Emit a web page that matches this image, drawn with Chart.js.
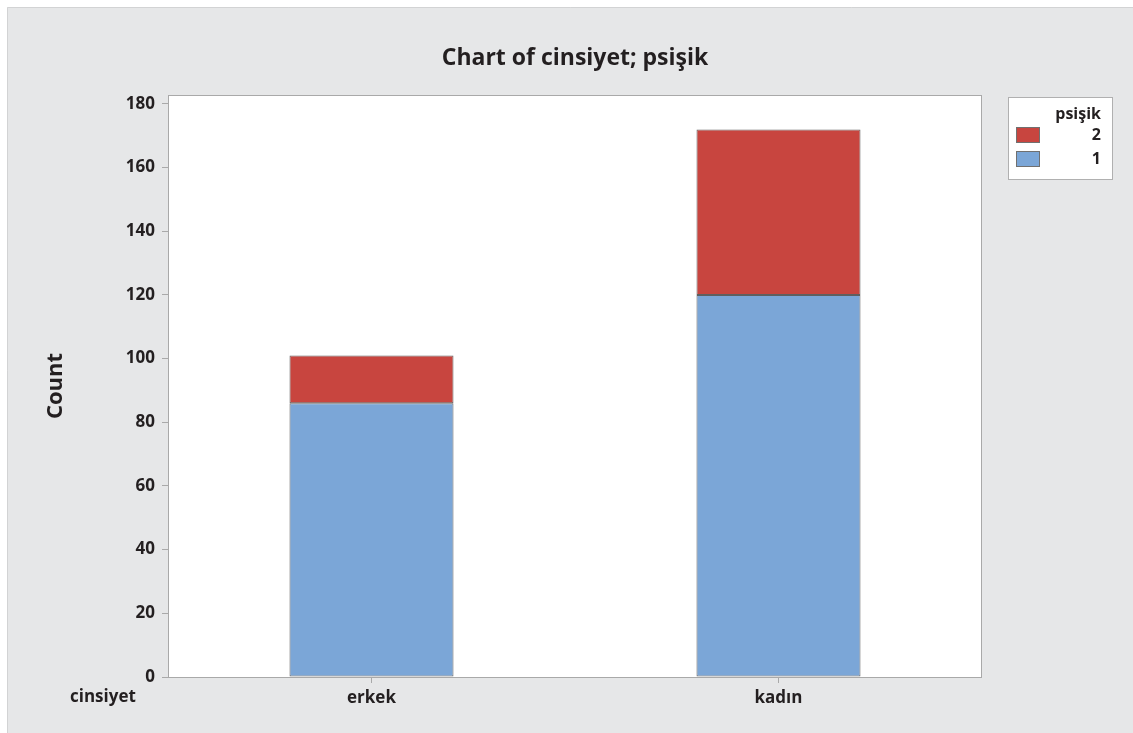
<!DOCTYPE html>
<html>
<head>
<meta charset="utf-8">
<script src="https://cdn.jsdelivr.net/npm/chart.js@4"></script>
<style>
  body { margin: 0; background: #ffffff; }
  #wrap { width: 1133px; height: 733px; position: relative; }
</style>
</head>
<body>
<div id="wrap"><canvas id="chart"></canvas></div>
<script>
const categories = ['erkek', 'kadın'];
const psisik1 = [86, 120];
const psisik2 = [15, 52];
const yTicks = [0, 20, 40, 60, 80, 100, 120, 140, 160, 180];

const FONT = '"Open Sans", "Noto Sans", sans-serif';
const BLUE = '#7ba6d7';
const RED = '#c8453f';

const decorPlugin = {
    id: 'decor',
    beforeDraw(chart) {
        const ctx = chart.ctx;
        const a = chart.chartArea;
        ctx.save();
        ctx.fillStyle = '#ffffff';
        ctx.fillRect(0, 0, chart.width, chart.height);
        ctx.fillStyle = '#e6e7e8';
        ctx.fillRect(7, 7, chart.width - 7, chart.height - 7);
        ctx.strokeStyle = '#d2d3d4';
        ctx.lineWidth = 1;
        ctx.beginPath();
        ctx.moveTo(7.5, chart.height);
        ctx.lineTo(7.5, 7.5);
        ctx.lineTo(chart.width, 7.5);
        ctx.stroke();
        ctx.fillStyle = '#ffffff';
        ctx.fillRect(a.left, a.top, a.right - a.left, a.bottom - a.top);
        ctx.restore();
    },
    afterDraw(chart) {
        const ctx = chart.ctx;
        const a = chart.chartArea;
        ctx.save();
        ctx.strokeStyle = '#a9a9a9';
        ctx.lineWidth = 1;
        ctx.strokeRect(a.left + 0.5, a.top + 0.5, a.right - a.left - 1, a.bottom - a.top);

        // title
        ctx.fillStyle = '#231f20';
        ctx.font = 'bold 23px ' + FONT;
        ctx.textAlign = 'center';
        ctx.textBaseline = 'middle';
        ctx.fillText('Chart of cinsiyet; psişik', (a.left + a.right) / 2, 58);

        // y axis title
        ctx.save();
        ctx.translate(56, (a.top + a.bottom) / 2);
        ctx.rotate(-Math.PI / 2);
        ctx.font = 'bold 22px ' + FONT;
        ctx.fillText('Count', 0, 0);
        ctx.restore();

        // x axis name
        ctx.font = 'bold 17px ' + FONT;
        ctx.textAlign = 'left';
        ctx.fillText('cinsiyet', 70, 697);

        // legend
        ctx.fillStyle = '#ffffff';
        ctx.fillRect(1008, 97, 105, 83);
        ctx.strokeStyle = '#b0b0b0';
        ctx.strokeRect(1008.5, 97.5, 104, 82);
        ctx.fillStyle = '#231f20';
        ctx.textAlign = 'right';
        ctx.font = 'bold 16px ' + FONT;
        ctx.fillText('psişik', 1101, 114);
        const items = [['2', RED, 135], ['1', BLUE, 159]];
        items.forEach(function (it) {
            ctx.fillStyle = it[1];
            ctx.fillRect(1016, it[2] - 8, 24, 16);
            ctx.strokeStyle = '#707070';
            ctx.strokeRect(1016.5, it[2] - 7.5, 23, 15);
            ctx.fillStyle = '#231f20';
            ctx.fillText(it[0], 1101, it[2]);
        });
        ctx.restore();
    }
};

new Chart(document.getElementById('chart').getContext('2d'), {
    type: 'bar',
    data: {
        labels: categories,
        datasets: [{
            label: '1',
            data: psisik1,
            backgroundColor: BLUE,
            borderColor: '#5f5f5f',
            borderWidth: 1,
            borderSkipped: false,
            barPercentage: 0.403,
            categoryPercentage: 1.0
        }, {
            label: '2',
            data: psisik2,
            backgroundColor: RED,
            borderColor: '#5f5f5f',
            borderWidth: 1,
            borderSkipped: false,
            barPercentage: 0.403,
            categoryPercentage: 1.0
        }]
    },
    options: {
        responsive: true,
        maintainAspectRatio: false,
        animation: false,
        layout: {
            padding: { left: 58, right: 151, top: 95, bottom: 0 }
        },
        plugins: {
            legend: { display: false },
            title: { display: false },
            tooltip: { enabled: false }
        },
        scales: {
            x: {
                stacked: true,
                afterFit: function (scale) { scale.height = 56; },
                grid: {
                    offset: false,
                    drawOnChartArea: false,
                    drawTicks: true,
                    tickLength: 6,
                    color: '#a9a9a9'
                },
                border: { display: false },
                ticks: {
                    color: '#231f20',
                    font: { family: FONT, size: 17, weight: 'bold' },
                    padding: 5
                }
            },
            y: {
                stacked: true,
                min: 0,
                max: 182.8,
                afterFit: function (scale) { scale.width = 110; },
                afterBuildTicks: function (scale) {
                    scale.ticks = yTicks.map(function (v) { return { value: v }; });
                },
                grid: {
                    drawOnChartArea: false,
                    drawTicks: true,
                    tickLength: 6,
                    color: '#a9a9a9'
                },
                border: { display: false },
                ticks: {
                    color: '#231f20',
                    font: { family: FONT, size: 17, weight: 'bold' },
                    padding: 7
                }
            }
        }
    },
    plugins: [decorPlugin]
});
</script>
</body>
</html>
